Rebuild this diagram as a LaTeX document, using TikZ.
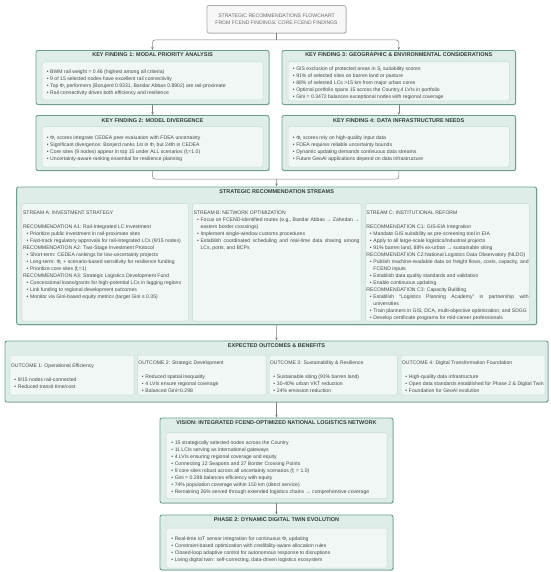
\documentclass[tikz,border=0pt]{standalone}
\usepackage{fontspec}
\setmainfont{Liberation Sans}
\usetikzlibrary{arrows.meta,shadows}
\definecolor{oborder}{HTML}{6A9F90}
\definecolor{ofill}{HTML}{DFEDE8}
\definecolor{iborder}{HTML}{C3DCD3}
\definecolor{ifill}{HTML}{F0F7F4}
\definecolor{bodyc}{HTML}{474747}
\definecolor{ttlc}{HTML}{2E3D3A}
\definecolor{connc}{HTML}{7F7F7F}
\definecolor{tboxfill}{HTML}{F7F7F7}
\definecolor{tboxdraw}{HTML}{ABABAB}
\definecolor{tboxtext}{HTML}{666666}
\newcommand\bi[1]{\par\noindent\hangindent=7pt\hangafter=1\hspace*{3.5pt}\makebox[3.5pt][l]{•}#1\par}
\newcommand\hd[1]{\par\noindent#1\par}
\newcommand\gap{\par\vspace{7pt}}
\newcommand\Phii{Φ\textsubscript{i}}
\newcommand\nohy{\hyphenpenalty=10000\exhyphenpenalty=10000\tolerance=10000}
\tikzset{
 outerbox/.style={draw=oborder, fill=ofill, line width=0.9pt, rounded corners=2pt, inner sep=0pt,
   drop shadow={shadow xshift=0.8pt, shadow yshift=-0.8pt, opacity=0.3}},
 titlebox/.style={draw=tboxdraw, fill=tboxfill, line width=0.8pt, rounded corners=2pt, inner sep=0pt,
   align=center, text=tboxtext, font=\fontsize{5.1}{7}\selectfont,
   drop shadow={shadow xshift=0.8pt, shadow yshift=-0.8pt, opacity=0.25}},
 innerbox/.style={draw=iborder, fill=ifill, line width=0.5pt, rounded corners=1.5pt, inner sep=0pt},
 boxttl/.style={font=\fontsize{5.5}{7}\selectfont\bfseries, text=ttlc, inner sep=0pt},
 bodytxt/.style={font=\fontsize{5.1}{7}\selectfont\nohy, text=bodyc, align=justify, inner sep=0pt},
 conn/.style={draw=connc, line width=0.5pt, rounded corners=2.5pt},
 arr/.style={conn, -{Stealth[length=3pt,width=2.4pt]}},
}
\begin{document}
\begin{tikzpicture}[x=1pt,y=-1pt]
\useasboundingbox (0,0) rectangle (550,572);
% title
\node[titlebox, minimum width=139pt, minimum height=27.5pt] (top) at (276.5,19.25)
  {STRATEGIC RECOMMENDATIONS FLOWCHART\\FROM FCEND FINDINGS: CORE FCEND FINDINGS};
% key findings
\node[outerbox, minimum width=233pt, minimum height=54pt] (kf1) at (152.5,77.5) {};
\node[boxttl] (kf1t) at (152.5,55) {KEY FINDING 1: MODAL PRIORITY ANALYSIS};
\node[innerbox, minimum width=221pt, minimum height=38pt] (kf1i) at (152.5,81) {};
\node[bodytxt, text width=216pt, anchor=west] (kf1b) at ([xshift=1.3pt]kf1i.west) {%
\bi{BWM rail weight = 0.46 (highest among all criteria)}
\bi{9 of 15 selected nodes have excellent rail connectivity}
\bi{Top \Phii{} performers (Borujerd 0.9331, Bandar Abbas 0.8902) are rail-proximate}
\bi{Rail connectivity drives both efficiency and resilience}};

\node[outerbox, minimum width=233.5pt, minimum height=54pt] (kf3) at (398.75,77.5) {};
\node[boxttl] (kf3t) at (398.75,55) {KEY FINDING 3: GEOGRAPHIC \& ENVIRONMENTAL CONSIDERATIONS};
\node[innerbox, minimum width=221.5pt, minimum height=39.4pt] (kf3i) at (398.75,81.3) {};
\node[bodytxt, text width=216pt, anchor=west] (kf3b) at ([xshift=1.3pt]kf3i.west) {%
\bi{GIS exclusion of protected areas in S\textsubscript{i} suitability scores}
\bi{91\% of selected sites on barren land or pasture}
\bi{88\% of selected LCs >15 km from major urban cores}
\bi{Optimal portfolio spans 15 across the Country,4 LVIs in portfolio}
\bi{Gini = 0.3472 balances exceptional nodes with regional coverage}};

\node[outerbox, minimum width=233pt, minimum height=55pt] (kf2) at (152.5,143) {};
\node[boxttl] (kf2t) at (152.5,120.3) {KEY FINDING 2: MODEL DIVERGENCE};
\node[innerbox, minimum width=221pt, minimum height=40.5pt] (kf2i) at (152.5,146.75) {};
\node[bodytxt, text width=216pt, anchor=west] (kf2b) at ([xshift=1.3pt]kf2i.west) {%
\bi{\Phii{} scores integrate CEDEA peer evaluation with FDEA uncertainty}
\bi{Significant divergence: Bonjerd ranks 1st in \Phii{} but 24th in CEDEA}
\bi{Core sites (9 nodes) appear in top 15 under ALL scenarios (f\textsubscript{i}=1.0)}
\bi{Uncertainty-aware ranking essential for resilience planning}};

\node[outerbox, minimum width=233.5pt, minimum height=55pt] (kf4) at (398.75,143) {};
\node[boxttl] (kf4t) at (398.75,120.3) {KEY FINDING 4: DATA INFRASTRUCTURE NEEDS};
\node[innerbox, minimum width=221.5pt, minimum height=40.5pt] (kf4i) at (398.75,146.75) {};
\node[bodytxt, text width=216pt, anchor=west] (kf4b) at ([xshift=1.3pt]kf4i.west) {%
\bi{\Phii{} scores rely on high-quality input data}
\bi{FDEA requires reliable uncertainty bounds}
\bi{Dynamic updating demands continuous data streams}
\bi{Future GeoAI applications depend on data infrastructure}};

% streams
\node[outerbox, minimum width=520pt, minimum height=137.6pt] (streams) at (276.6,255.8) {};
\node[boxttl] (streamst) at (276.6,191.5) {STRATEGIC RECOMMENDATION STREAMS};
\node[innerbox, minimum width=166.7pt, minimum height=117.5pt] (sa) at (105.25,262.25) {};
\node[innerbox, minimum width=168.5pt, minimum height=117.5pt] (sb) at (276.75,262.25) {};
\node[innerbox, minimum width=164.3pt, minimum height=117.5pt] (sc) at (447.45,262.25) {};
\node[bodytxt, text width=164pt, anchor=north west] (sab) at ([xshift=1.2pt,yshift=-4pt]sa.north west) {%
\hd{STREAM A: INVESTMENT STRATEGY}\gap
\hd{RECOMMENDATION A1: Rail-Integrated LC Investment}
\bi{Prioritize public investment in rail-proximate sites}
\bi{Fast-track regulatory approvals for rail-integrated LCs (9/15 nodes)}
\hd{RECOMMENDATION A2: Two-Stage Investment Protocol}
\bi{Short-term: CEDEA rankings for low-uncertainty projects}
\bi{Long-term: \Phii{} + scenario-based sensitivity for resilience funding}
\bi{Prioritize core sites (f\textsubscript{i}=1)}
\hd{RECOMMENDATION A3: Strategic Logistics Development Fund}
\bi{Concessional loans/grants for high-potential LCs in lagging regions}
\bi{Link funding to regional development outcomes}
\bi{Monitor via Gini-based equity metrics (target Gini ≤ 0.35)}};
\node[bodytxt, text width=166pt, anchor=north west] (sbb) at ([xshift=1.1pt,yshift=-4pt]sb.north west) {%
\hd{STREAM B: NETWORK OPTIMIZATION}
\bi{Focus on FCEND-identified routes (e.g., Bandar Abbas → Zahedan → eastern border crossings)}
\bi{Implement single-window customs procedures}
\bi{Establish coordinated scheduling and real-time data sharing among LCs, ports, and BCPs}};
\node[bodytxt, text width=162.2pt, anchor=north west] (scb) at ([xshift=1.2pt,yshift=-4pt]sc.north west) {%
\hd{STREAM C: INSTITUTIONAL REFORM}\gap
\hd{RECOMMENDATION C1: GIS-EIA Integration}
\bi{Mandate GIS suitability as pre-screening tool in EIA}
\bi{Apply to all large-scale logistics/industrial projects}
\bi{91\% barren land, 88\% ex-urban → sustainable siting}
\hd{RECOMMENDATION C2:National Logistics Data Observatory (NLDO)}
\bi{Publish machine-readable data on freight flows, costs, capacity, and FCEND inputs}
\bi{Establish data quality standards and validation}
\bi{Enable continuous updating}
\hd{RECOMMENDATION C3: Capacity Building}
\bi{Establish “Logistics Planning Academy” in partnership with universities}
\bi{Train planners in GIS, DCA, multi-objective optimization, and SDGG}
\bi{Develop certificate programs for mid-career professionals}};

% outcomes
\node[outerbox, minimum width=543pt, minimum height=61pt] (outc) at (276.5,371.5) {};
\node[boxttl] (outct) at (276.5,345.5) {EXPECTED OUTCOMES \& BENEFITS};
\node[innerbox, minimum width=124.1pt, minimum height=40pt] (o1) at (71.95,375) {};
\node[innerbox, minimum width=128.5pt, minimum height=40pt] (o2) at (201.75,375) {};
\node[innerbox, minimum width=128.4pt, minimum height=40pt] (o3) at (333.2,375) {};
\node[innerbox, minimum width=143.8pt, minimum height=40pt] (o4) at (472.9,375) {};
\node[bodytxt, text width=150pt, anchor=west] (o1b) at ([xshift=1pt]o1.west) {%
\hd{OUTCOME 1: Operational Efficiency}\gap
\bi{9/15 nodes rail-connected}
\bi{Reduced transit time/cost}};
\node[bodytxt, text width=150pt, anchor=west] (o2b) at ([xshift=1pt]o2.west) {%
\hd{OUTCOME 2: Strategic Development}\gap
\bi{Reduced spatial inequality}
\bi{4 LVIs ensure regional coverage}
\bi{Balanced Gini=0.298}};
\node[bodytxt, text width=150pt, anchor=west] (o3b) at ([xshift=1pt]o3.west) {%
\hd{OUTCOME 3: Sustainability \& Resilience}\gap
\bi{Sustainable siting (91\% barren land)}
\bi{30-40\% urban VKT reduction}
\bi{24\% emission reduction}};
\node[bodytxt, text width=160pt, anchor=west] (o4b) at ([xshift=1pt]o4.west) {%
\hd{OUTCOME 4: Digital Transformation Foundation}\gap
\bi{High-quality data infrastructure}
\bi{Open data standards established for Phase 2 \& Digital Twin}
\bi{Foundation for GeoAI evolution}};

% vision
\node[outerbox, minimum width=233pt, minimum height=85pt] (vis) at (276.5,460.5) {};
\node[boxttl] (vist) at (276.5,423) {VISION: INTEGRATED FCEND-OPTIMIZED NATIONAL LOGISTICS NETWORK};
\node[innerbox, minimum width=221pt, minimum height=66pt] (visi) at (276.5,465.7) {};
\node[bodytxt, text width=216pt, anchor=west] (visb) at ([xshift=1.8pt]visi.west) {%
\bi{15 strategically selected nodes across the Country}
\bi{11 LCIs serving as international gateways}
\bi{4 LVIs ensuring regional coverage and equity}
\bi{Connecting 12 Seaports and 27 Border Crossing Points}
\bi{9 core sites robust across all uncertainty scenarios (f\textsubscript{i} = 1.0)}
\bi{Gini = 0.298 balances efficiency with equity}
\bi{74\% population coverage within 150 km (direct service)}
\bi{Remaining 26\% served through extended logistics chains → comprehensive coverage}};

% phase 2
\node[outerbox, minimum width=233pt, minimum height=55pt] (ph) at (276.5,542.5) {};
\node[boxttl] (pht) at (276.5,519.6) {PHASE 2: DYNAMIC DIGITAL TWIN EVOLUTION};
\node[innerbox, minimum width=221pt, minimum height=40pt] (phi) at (276.5,548) {};
\node[bodytxt, text width=216pt, anchor=west] (phb) at ([xshift=1.8pt]phi.west) {%
\bi{Real-time IoT sensor integration for continuous \Phii{} updating}
\bi{Constraint-based optimization with credibility-aware allocation rules}
\bi{Closed-loop adaptive control for autonomous response to disruptions}
\bi{Living digital twin: self-correcting, data-driven logistics ecosystem}};

% connectors
\coordinate (s1) at (276.5,40);
\coordinate (s2) at (276.5,179);
\draw[conn] (top.south) -- (s1);
\draw[arr] (s1) -| (kf1.north);
\draw[arr] (s1) -| (kf3.north);
\draw[arr] (kf1.south) -- (kf2.north);
\draw[arr] (kf3.south) -- (kf4.north);
\draw[conn] (kf2.south) |- (s2);
\draw[conn] (kf4.south) |- (s2);
\draw[arr] (s2) -- (streams.north);
\draw[arr] (streams.south) -- (outc.north);
\draw[arr] (outc.south) -- (vis.north);
\draw[arr] (vis.south) -- (ph.north);
\end{tikzpicture}
\end{document}
